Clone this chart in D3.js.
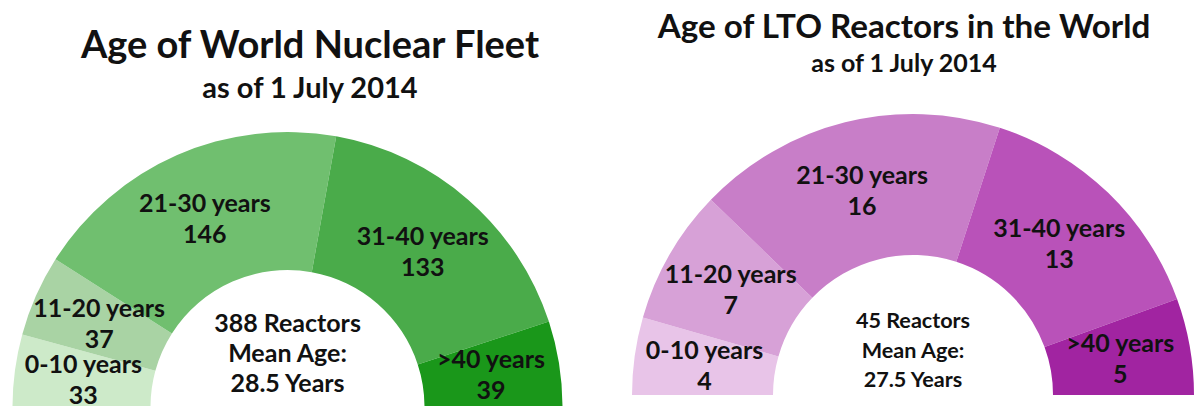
<!DOCTYPE html>
<html>
<head>
<meta charset="utf-8">
<script src="https://cdn.jsdelivr.net/npm/d3@7"></script>
<style>
  html, body { margin: 0; padding: 0; background: #ffffff; }
  svg { display: block; }
  text { font-family: Lato, "Open Sans", sans-serif; font-weight: 700; fill: #111111; }
</style>
</head>
<body>
<svg id="chart" width="1196" height="406"></svg>
<script>
// ---- Data ----
const categories = ["0-10 years", "11-20 years", "21-30 years", "31-40 years", ">40 years"];
const fleetValues = [33, 37, 146, 133, 39];
const ltoValues = [4, 7, 16, 13, 5];
const fleetColors = ["#cdeac9", "#a9d3a4", "#70bf6f", "#4aab4a", "#1a971a"];
const ltoColors = ["#e8c4e8", "#d7a1d7", "#c87ec8", "#b952b9", "#a124a1"];
const fleetTitle = "Age of World Nuclear Fleet";
const ltoTitle = "Age of LTO Reactors in the World";
const subtitle = "as of 1 July 2014";
const fleetCenter = ["388 Reactors", "Mean Age:", "28.5 Years"];
const ltoCenter = ["45 Reactors", "Mean Age:", "27.5 Years"];

const svg = d3.select("#chart");

function halfDonut(opts) {
  const g = svg.append("g").attr("transform", `translate(${opts.cx},${opts.cy})`);
  const data = categories.map((c, i) => ({ cat: c, value: opts.values[i], color: opts.colors[i] }));
  const pie = d3.pie().value(d => d.value).sort(null)
    .startAngle(-Math.PI / 2).endAngle(Math.PI / 2);
  const arc = d3.arc().innerRadius(opts.r0).outerRadius(opts.r1);
  const arcs = pie(data);
  g.selectAll("path.seg").data(arcs).enter().append("path")
    .attr("class", "seg")
    .attr("d", arc)
    .attr("fill", d => d.data.color);

  const fs = opts.labelSize, lh = opts.labelLine;
  const lbl = g.selectAll("text.lbl").data(arcs).enter().append("text")
    .attr("class", "lbl")
    .attr("text-anchor", "middle")
    .attr("font-size", fs)
    .attr("transform", d => { const c = arc.centroid(d); return `translate(${c[0]},${c[1]})`; });
  lbl.append("tspan").attr("x", 0).attr("y", -lh / 2 + fs * 0.36).text(d => d.data.cat);
  lbl.append("tspan").attr("x", 0).attr("y", lh / 2 + fs * 0.36).text(d => d.value);

  g.selectAll("text.ctr").data(opts.center).enter().append("text")
    .attr("class", "ctr")
    .attr("text-anchor", "middle")
    .attr("font-size", opts.centerSize)
    .attr("x", 0)
    .attr("y", (d, i) => opts.centerY[i])
    .text(d => d);
}

halfDonut({ cx: 287.5, cy: 407, r0: 137, r1: 275, values: fleetValues, colors: fleetColors,
  labelSize: 25, labelLine: 31, center: fleetCenter, centerSize: 25, centerY: [-75, -45, -15] });
halfDonut({ cx: 913, cy: 395, r0: 140, r1: 281, values: ltoValues, colors: ltoColors,
  labelSize: 25, labelLine: 31, center: ltoCenter, centerSize: 21.6, centerY: [-67, -37, -8.5] });

// Titles
svg.append("text").attr("x", 310).attr("y", 58).attr("text-anchor", "middle")
  .attr("font-size", 38).text(fleetTitle);
svg.append("text").attr("x", 310).attr("y", 98).attr("text-anchor", "middle")
  .attr("font-size", 29).text(subtitle);
svg.append("text").attr("x", 904).attr("y", 38).attr("text-anchor", "middle")
  .attr("font-size", 33.2).text(ltoTitle);
svg.append("text").attr("x", 904).attr("y", 71.5).attr("text-anchor", "middle")
  .attr("font-size", 25).text(subtitle);
</script>
</body>
</html>
